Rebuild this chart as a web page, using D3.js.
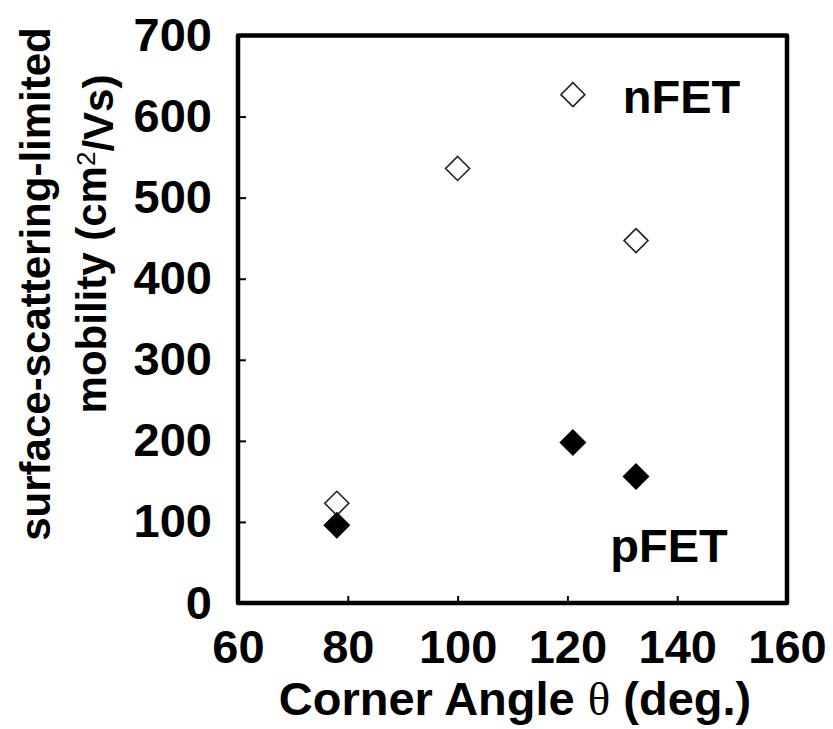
<!DOCTYPE html>
<html>
<head>
<meta charset="utf-8">
<script src="https://cdn.jsdelivr.net/npm/d3@7"></script>
<style>
    body { margin: 0; background: #fff; }
    svg { display: block; font-family: 'Liberation Sans', Arial, sans-serif; font-weight: bold; }
</style>
</head>
<body>
<div class="chart"></div>
<script>
// Data
let xTicks = [60, 80, 100, 120, 140, 160],
    yTicks = [0, 100, 200, 300, 400, 500, 600, 700],
    nfetAngle = [78, 100, 121, 132.5],
    nfetMobility = [123, 536, 627, 447],
    pfetAngle = [78, 121, 132.5],
    pfetMobility = [96, 198, 156];

let w = 833,
    h = 729,
    plotLeft = 238, plotRight = 787, plotTop = 35.5, plotBottom = 603;

let svg = d3.select('.chart')
    .append('svg')
    .attr('width', w)
    .attr('height', h);

// Scales
let x = d3.scaleLinear().domain([60, 160]).range([plotLeft, plotRight]),
    y = d3.scaleLinear().domain([0, 700]).range([plotBottom, plotTop]);

// Axes, ticks pointing inwards
let yAxis = svg.append('g')
    .attr('transform', 'translate(' + plotLeft + ',0)')
    .call(d3.axisLeft(y).tickValues(yTicks).tickSize(-8).tickPadding(26));
let xAxis = svg.append('g')
    .attr('transform', 'translate(0,' + plotBottom + ')')
    .call(d3.axisBottom(x).tickValues(xTicks).tickSize(-7).tickPadding(27));

[yAxis, xAxis].forEach((g) => {
    g.select('.domain').remove();
    g.attr('font-family', null).attr('font-size', null);
    g.selectAll('line').attr('stroke', '#000').attr('stroke-width', 2);
    g.selectAll('text')
        .attr('fill', '#000')
        .style('font-size', '47px')
        .style('font-weight', 'bold');
});

// Plot frame
svg.append('rect')
    .attr('x', plotLeft).attr('y', plotTop)
    .attr('width', plotRight - plotLeft).attr('height', plotBottom - plotTop)
    .attr('fill', 'none')
    .attr('stroke', '#000')
    .attr('stroke-width', 4.5)
    .attr('stroke-linejoin', 'round');

// Markers
let diamond = (r) => 'M0,' + (-r) + 'L' + r + ',0L0,' + r + 'L' + (-r) + ',0Z';

svg.append('g')
    .selectAll('path')
    .data(d3.zip(nfetAngle, nfetMobility))
    .enter().append('path')
    .attr('d', diamond(12))
    .attr('transform', (d) => 'translate(' + x(d[0]) + ',' + y(d[1]) + ')')
    .attr('fill', '#fff')
    .attr('stroke', '#222')
    .attr('stroke-width', 1.6);

svg.append('g')
    .selectAll('path')
    .data(d3.zip(pfetAngle, pfetMobility))
    .enter().append('path')
    .attr('d', diamond(13.5))
    .attr('transform', (d) => 'translate(' + x(d[0]) + ',' + y(d[1]) + ')')
    .attr('fill', '#000');

// Series labels
svg.append('text')
    .attr('x', x(130.1)).attr('y', y(604))
    .style('font-size', '47px')
    .text('nFET');
svg.append('text')
    .attr('x', x(127.8)).attr('y', y(50.6))
    .style('font-size', '47px')
    .text('pFET');

// X title
let xt = svg.append('text')
    .attr('x', 515).attr('y', 715)
    .attr('text-anchor', 'middle')
    .style('font-size', '47px');
xt.append('tspan').text('Corner Angle ');
xt.append('tspan')
    .style('font-family', "'Liberation Serif', 'DejaVu Serif', serif")
    .style('font-weight', 'normal')
    .text('θ');
xt.append('tspan').text(' (deg.)');

// Y title, two lines
svg.append('text')
    .attr('transform', 'translate(50,284) rotate(-90)')
    .attr('text-anchor', 'middle')
    .style('font-size', '42px')
    .text('surface-scattering-limited');
let yt = svg.append('text')
    .attr('transform', 'translate(106,244) rotate(-90)')
    .attr('text-anchor', 'middle')
    .style('font-size', '42px');
yt.append('tspan').text('mobility (cm');
yt.append('tspan')
    .attr('dy', '-0.42em')
    .style('font-size', '26px')
    .style('font-weight', 'normal')
    .text('2');
yt.append('tspan')
    .attr('dy', '0.42em')
    .text('/Vs)');
</script>
</body>
</html>
